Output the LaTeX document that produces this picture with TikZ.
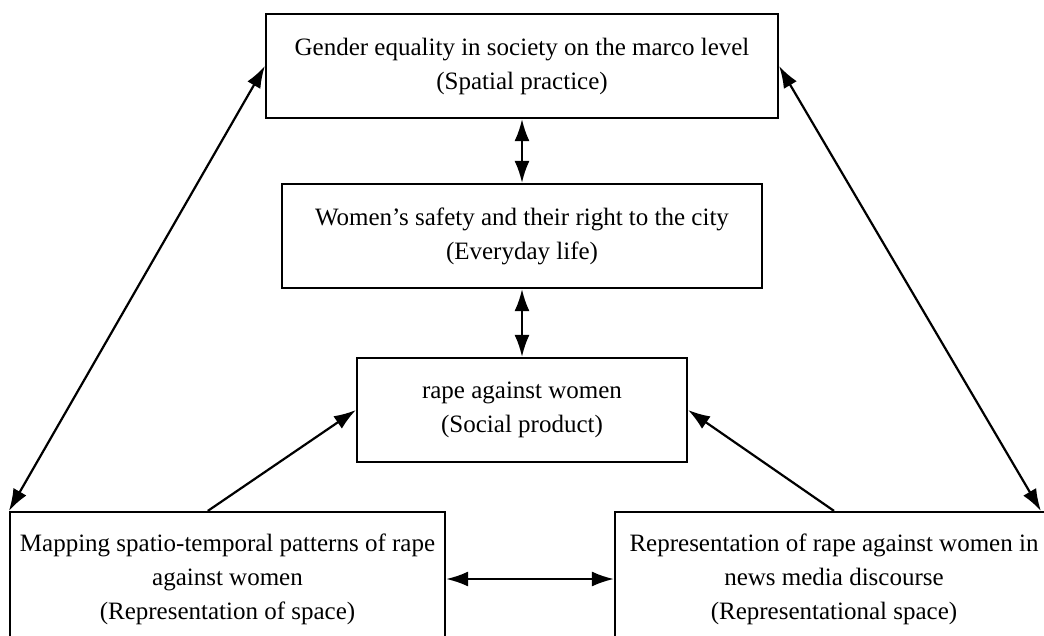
\documentclass[tikz,border=0pt]{standalone}
\usepackage{fontspec}
\setmainfont{Liberation Serif}
\usetikzlibrary{arrows.meta, calc}

\tikzset{
    box/.style={draw, line width=2.2pt, align=center, inner sep=0pt,
        font=\fontsize{25}{34}\selectfont},
    link/.style={line width=2.2pt, >={Latex[length=22pt,width=15pt]}}
}

\begin{document}
\begin{tikzpicture}[x=1pt,y=-1pt]
    \useasboundingbox (0,0) rectangle (1044,635);
    \clip (0,0) rectangle (1044,635);

    %% boxes
    \node[box, minimum width=512pt, minimum height=104pt] (top) at (522,66)
        {Gender equality in society on the marco level\\(Spatial practice)};
    \node[box, minimum width=480pt, minimum height=104pt] (life) at (522,236)
        {Women’s safety and their right to the city\\(Everyday life)};
    \node[box, minimum width=330pt, minimum height=104pt] (rape) at (522,410)
        {rape against women\\(Social product)};
    \node[box, minimum width=435pt, minimum height=134pt] (map) at (227.5,579)
        {Mapping spatio-temporal patterns of rape\\against women\\(Representation of space)};
    \node[box, minimum width=438pt, minimum height=134pt] (rep) at (834,579)
        {Representation of rape against women in\\news media discourse\\(Representational space)};

    %% links between the boxes
    \draw[link,<->] (top) -- (life);
    \draw[link,<->] (life) -- (rape);
    \draw[link,<->] (map) -- (rep);
    \draw[link,<->] (map.north west) -- (top.west);
    \draw[link,<->] (top.east) -- ($(rep.north west)!0.97!(rep.north east)$);

    % the two bottom boxes feed the social product
    \draw[link,->] ($(map.north west)!0.455!(map.north east)$) -- (rape.west);
    \draw[link,->] (rep.north) -- (rape.east);
\end{tikzpicture}
\end{document}
